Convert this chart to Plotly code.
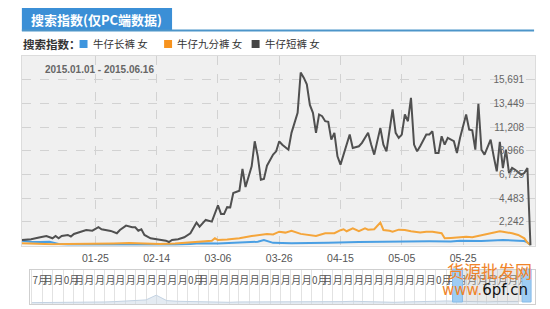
import plotly.graph_objects as go
from datetime import date, timedelta

W, H = 550, 309
BASE = date(2015, 1, 1)

# ---- data (day offset from 2015-01-01, value) ----
dark_days = [0, 3, 6, 8, 10, 11, 12, 13, 15, 16, 17, 19, 21, 23, 25, 26, 29, 31, 32, 34, 36, 37, 38, 39, 40,
             42, 45, 47, 48, 49, 51, 53, 55, 57, 58, 60, 62, 64, 65, 66, 67, 68, 69, 71, 72, 73, 75, 76, 77, 78,
             79, 80, 82, 83, 84, 85, 87, 88, 90, 91, 92, 93, 94, 95, 96, 97, 98, 99, 100, 101, 102, 103, 104,
             105, 107, 108, 110, 111, 113, 114, 115, 117, 118, 119, 121, 122, 123, 124, 125, 126, 127, 128, 129,
             130, 132, 133, 134, 135, 136, 137, 138, 139, 141, 142, 143, 145, 146, 147, 148, 149, 150, 151, 153,
             154, 155, 156, 157, 158, 159, 160, 161, 163, 164, 165, 166]
dark_values = [520, 590, 780, 900, 680, 900, 680, 900, 1000, 840, 1090, 1310, 1470, 1400, 1730, 1540, 1380, 1160,
               1470, 1880, 1730, 1730, 1400, 1540, 1000, 680, 520, 460, 330, 520, 590, 780, 1160, 2170, 1790,
               2420, 2260, 3800, 2990, 2990, 3630, 3600, 4960, 5180, 7240, 5530, 7490, 9860, 8440, 6220, 6300,
               7550, 8600, 8910, 9860, 9540, 9070, 10660, 12560, 16360, 15880, 15250, 13300, 12560, 10660, 12400,
               12240, 11760, 11700, 10020, 10660, 8440, 7650, 8600, 10500, 9230, 9390, 9710, 10660, 9550, 8600,
               11130, 9550, 8910, 12870, 10660, 10180, 10500, 12400, 11760, 13980, 9550, 8910, 9390, 10500, 10500,
               10810, 8760, 8760, 10340, 9550, 10180, 9870, 8760, 10180, 12400, 10970, 10900, 9070, 13410, 9070,
               8600, 10020, 8440, 7010, 9800, 7330, 9070, 6860, 7340, 7170, 6700, 6860, 7330, 0]

orange_days = [0, 5, 10, 15, 20, 25, 30, 35, 40, 45, 50, 55, 58, 62, 63, 64, 67, 71, 75, 77, 80, 82, 84, 86, 88,
               91, 93, 96, 99, 101, 102, 104, 105, 106, 108, 110, 112, 113, 115, 117, 118, 120, 121, 123, 125,
               127, 130, 132, 134, 137, 138, 140, 143, 145, 147, 149, 151, 153, 154, 156, 157, 159, 160, 162,
               164, 165, 166]
orange_values = [210, 150, 120, 150, 150, 180, 200, 230, 200, 150, 200, 300, 360, 450, 680, 520, 560, 680, 900,
                 1000, 1090, 1050, 1310, 1220, 1400, 1100, 1000, 900, 1160, 1200, 1160, 1450, 1540, 1350, 1630,
                 1350, 1630, 1500, 1540, 2170, 1470, 1400, 1310, 1500, 1470, 1350, 1220, 1300, 1310, 1160, 680,
                 720, 780, 820, 780, 900, 1000, 1100, 1200, 1350, 1310, 1220, 1150, 1000, 680, 270, 50]

blue_days = [0, 3, 6, 9, 12, 15, 20, 30, 40, 50, 55, 58, 64, 71, 77, 79, 82, 88, 93, 96, 100, 110, 120, 128, 133,
             140, 143, 150, 157, 162, 164, 165, 166]
blue_values = [460, 350, 330, 360, 150, 80, 60, 60, 60, 80, 150, 210, 180, 240, 360, 520, 250, 210, 210, 240,
               270, 330, 360, 420, 400, 380, 460, 420, 520, 450, 420, 300, 30]

series_names = ["牛仔长裤 女", "牛仔九分裤 女", "牛仔短裤 女"]
series_colors = ["#4a9fe3", "#f5a53a", "#505050"]

x_tick_dates = ["2015-01-25", "2015-02-14", "2015-03-06", "2015-03-26", "2015-04-15",
                "2015-05-05", "2015-05-25", "2015-06-14"]
x_tick_labels = ["01-25", "02-14", "03-06", "03-26", "04-15", "05-05", "05-25", "06-14"]
y_tick_values = [2242, 4483, 6725, 8966, 11208, 13449, 15691]
y_tick_labels = ["2,242", "4,483", "6,725", "8,966", "11,208", "13,449", "15,691"]
y_max = 17933

# navigator (monthly overview, 2011-07 .. 2015-06)
nav_values = [4, 4, 5, 5, 6, 5, 5, 6, 7, 8, 9, 12, 26, 10, 8, 7, 6, 6, 5, 5, 6, 6, 6, 7,
              6, 6, 5, 5, 5, 6, 7, 8, 7, 6, 5, 5, 6, 6, 7, 8, 9, 8, 7, 7, 6, 7, 8, 7]
nav_months = []
y0, m0 = 2011, 7
for i in range(len(nav_values)):
    mm = (m0 - 1 + i) % 12 + 1
    yy = y0 + (m0 - 1 + i) // 12
    nav_months.append(date(yy, mm, 1))
# navigator labels as they are visible in the crowded strip (digits mostly covered)
nav_labels = []
for i, d in enumerate(nav_months):
    if i == 0:
        nav_labels.append(f"{d.month}月")
    elif d.month == 10:
        nav_labels.append("0月")
    else:
        nav_labels.append("月")


def dates(days):
    return [BASE + timedelta(days=d) for d in days]


def px(x):
    return x / W


def py(y):
    return 1 - y / H


FONT = "Liberation Sans, Arial, Noto Sans CJK SC, sans-serif"
CJK = "Noto Sans CJK SC, sans-serif"

fig = go.Figure()
for days, vals, name, col in [(blue_days, blue_values, series_names[0], series_colors[0]),
                              (orange_days, orange_values, series_names[1], series_colors[1]),
                              (dark_days, dark_values, series_names[2], series_colors[2])]:
    fig.add_trace(go.Scatter(x=dates(days), y=vals, mode="lines", name=name,
                             line=dict(color=col, width=2), xaxis="x", yaxis="y"))

fig.add_trace(go.Scatter(x=nav_months, y=nav_values, mode="lines", fill="tozeroy",
                         line=dict(color="#c3d2e2", width=1), fillcolor="rgba(205,218,232,0.55)",
                         xaxis="x2", yaxis="y2", showlegend=False))

fig.update_layout(
    width=W, height=H, margin=dict(l=0, r=0, t=0, b=0),
    paper_bgcolor="white", plot_bgcolor="rgba(0,0,0,0)", showlegend=False,
    font=dict(family=FONT, size=10, color="#555"),
    xaxis=dict(domain=[px(22), px(538)], anchor="y", type="date",
               range=["2015-01-01", "2015-06-17 12:00"],
               tickmode="array", tickvals=x_tick_dates, ticktext=x_tick_labels,
               showgrid=True, gridcolor="#d2d2d2", griddash="dash", gridwidth=1,
               zeroline=False, showline=True, linecolor="#dcdcdc", mirror=True,
               ticks="", ticklabelstandoff=3, tickangle=0, tickfont=dict(size=10.5, color="#555")),
    yaxis=dict(domain=[py(245.5), py(56)], anchor="x", range=[0, y_max],
               tickmode="array", tickvals=y_tick_values, ticktext=y_tick_labels,
               side="right", ticklabelposition="inside", ticks="", ticklabelstandoff=10,
               showgrid=True, gridcolor="#d2d2d2", griddash="dash", gridwidth=1,
               zeroline=False, showline=True, linecolor="#dcdcdc", mirror=True,
               tickfont=dict(size=10, color="#666")),
    xaxis2=dict(domain=[px(30), px(538)], anchor="y2", type="date",
                range=["2011-06-25", "2015-07-21"],
                tickmode="array", tickvals=nav_months, ticktext=nav_labels, tickangle=0,
                side="top", ticklabelposition="inside right", ticks="", ticklabelstandoff=3,
                showgrid=True, gridcolor="#e2e2e2", gridwidth=1, zeroline=False,
                showline=True, linecolor="#cfcfcf", mirror=True,
                tickfont=dict(size=10, color="#555", family=CJK)),
    yaxis2=dict(domain=[py(304), py(270)], anchor="x2", range=[0, 100],
                showticklabels=False, showgrid=False, zeroline=False,
                showline=True, linecolor="#cfcfcf", mirror=True, ticks=""),
)

shapes = [
    # plot background
    dict(type="rect", xref="x domain", yref="y domain", x0=0, x1=1, y0=0, y1=1,
         fillcolor="#f0f0f0", line=dict(width=0), layer="below"),
    # tab
    dict(type="rect", xref="paper", yref="paper", x0=px(22), x1=px(173), y0=py(31), y1=py(8),
         fillcolor="#3b8fd6", line=dict(width=0)),
    dict(type="line", xref="paper", yref="paper", x0=px(22), x1=px(537), y0=py(30.5), y1=py(30.5),
         line=dict(color="#4d95c9", width=2)),
    # navigator selection
    dict(type="rect", xref="paper", yref="paper", x0=px(465), x1=px(525), y0=py(302), y1=py(270),
         fillcolor="rgba(190,190,190,0.35)", line=dict(width=0)),
    dict(type="rect", xref="paper", yref="paper", x0=px(455), x1=px(465), y0=py(302), y1=py(269),
         fillcolor="#9fcdf3", line=dict(color="#86bbe8", width=1)),
    dict(type="rect", xref="paper", yref="paper", x0=px(525), x1=px(534), y0=py(302), y1=py(269),
         fillcolor="#9fcdf3", line=dict(color="#86bbe8", width=1)),
]
# legend squares
for xs, col in zip([80, 165, 253], ["#3e95de", "#f7931e", "#444444"]):
    shapes.append(dict(type="rect", xref="paper", yref="paper", x0=px(xs), x1=px(xs + 8),
                       y0=py(48), y1=py(40), fillcolor=col, line=dict(width=0)))
fig.update_layout(shapes=shapes)

ann = [
    dict(text="<b>搜索指数(仅PC端数据)</b>", x=px(97), y=py(19.5), font=dict(family=CJK, size=13, color="white"),
         xanchor="center", yanchor="middle"),
    dict(text="<b>搜索指数：</b>", x=px(21), y=py(44), font=dict(family=CJK, size=11.5, color="#333"),
         xanchor="left", yanchor="middle"),
    dict(text="<b>2015.01.01 - 2015.06.16</b>", x=px(100), y=py(69), font=dict(family=FONT, size=10, color="#666"),
         xanchor="center", yanchor="middle"),
    dict(text="货源批发网", x=px(492), y=py(270), font=dict(family=CJK, size=17, color="#f0842a"),
         xanchor="center", yanchor="middle"),
    dict(text='<span style="color:#f0842a">www.</span><span style="color:#111">6pf.cn</span>',
         x=px(488), y=py(290), font=dict(family="DejaVu Sans, sans-serif", size=15),
         xanchor="center", yanchor="middle"),
]
for xs, name in zip([91, 176, 264], series_names):
    ann.append(dict(text=name, x=px(xs), y=py(44), font=dict(family=CJK, size=10.5, color="#333"),
                    xanchor="left", yanchor="middle"))
for a in ann:
    a.update(xref="paper", yref="paper", showarrow=False)
fig.update_layout(annotations=ann)

fig.write_html("out.html")
